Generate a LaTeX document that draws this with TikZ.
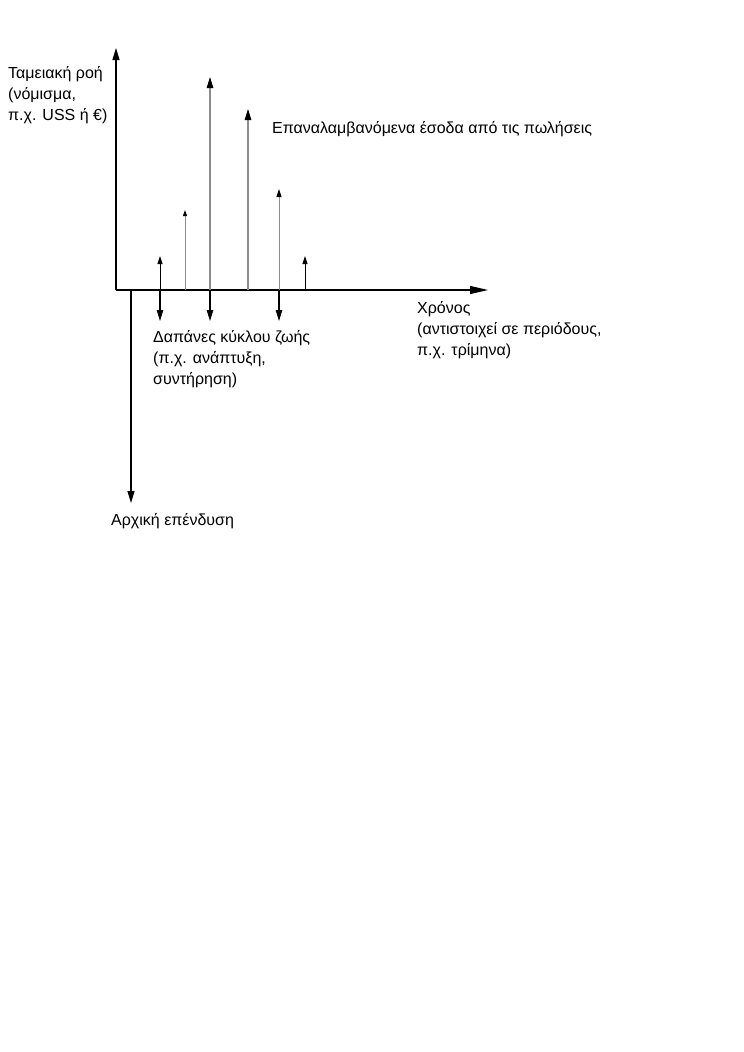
\documentclass[tikz,border=0pt]{standalone}
\usepackage{fontspec}
\setmainfont{Liberation Sans}
\usetikzlibrary{arrows.meta}
\begin{document}
\begin{tikzpicture}[x=1pt,y=-1pt,
  lbl/.style={inner sep=0pt,align=left,font=\fontsize{16}{21}\selectfont},
  big/.style={line width=1.1pt,-{Triangle[length=12pt,width=7pt,color=black]}},
  mid/.style={line width=1.1pt,-{Triangle[length=11pt,width=6.5pt,color=black]}},
  small/.style={line width=1pt,-{Triangle[length=8pt,width=5pt,color=black]}},
  tiny/.style={line width=1pt,-{Triangle[length=6pt,width=4pt,color=black]}},
  grey/.style={draw=black!45}]
\useasboundingbox (0,0) rectangle (744,1052);
% coordinates
\coordinate (o) at (116,290);
\coordinate (ytip) at (116,48);
\coordinate (xtip) at (488,290);
\coordinate (i0) at (131,290);
\coordinate (i1) at (131,503);
\foreach \n/\x in {a/160,b/185,c/210,d/248,e/279,f/305}{\coordinate (\n0) at (\x,290);}
\coordinate (aup) at (160,256);
\coordinate (adn) at (160,321);
\coordinate (bup) at (185,210);
\coordinate (cup) at (210,77);
\coordinate (cdn) at (210,321);
\coordinate (dup) at (248,109);
\coordinate (eup) at (279,189);
\coordinate (edn) at (279,321);
\coordinate (fup) at (305,256);
% axes
\draw[big] (o) -- (ytip);
\draw[line width=1.1pt,-{Triangle[length=18pt,width=8pt]}] (o) -- (xtip);
\draw[big] (i0) -- (i1);
% bars
\draw[small] (a0) -- (aup);
\draw[mid] (a0) -- (adn);
\draw[tiny,grey] (b0) -- (bup);
\draw[mid,grey] (c0) -- (cup);
\draw[mid] (c0) -- (cdn);
\draw[mid,grey] (d0) -- (dup);
\draw[small,grey] (e0) -- (eup);
\draw[mid] (e0) -- (edn);
\draw[small] (f0) -- (fup);
% labels
\node[lbl,anchor=base west] (cf) at (8,120) {Ταμειακή ροή\\(νόμισμα,\\π.χ. USS ή €)};
\node[lbl,anchor=base west] (rev) at (272,133) {Επαναλαμβανόμενα έσοδα από τις πωλήσεις};
\node[lbl,anchor=base west] (time) at (417,355) {Χρόνος\\(αντιστοιχεί σε περιόδους,\\π.χ. τρίμηνα)};
\node[lbl,anchor=base west] (lcc) at (153,384) {Δαπάνες κύκλου ζωής\\(π.χ. ανάπτυξη,\\συντήρηση)};
\node[lbl,anchor=base west] (inv) at (111,525) {Αρχική επένδυση};
\end{tikzpicture}
\end{document}
